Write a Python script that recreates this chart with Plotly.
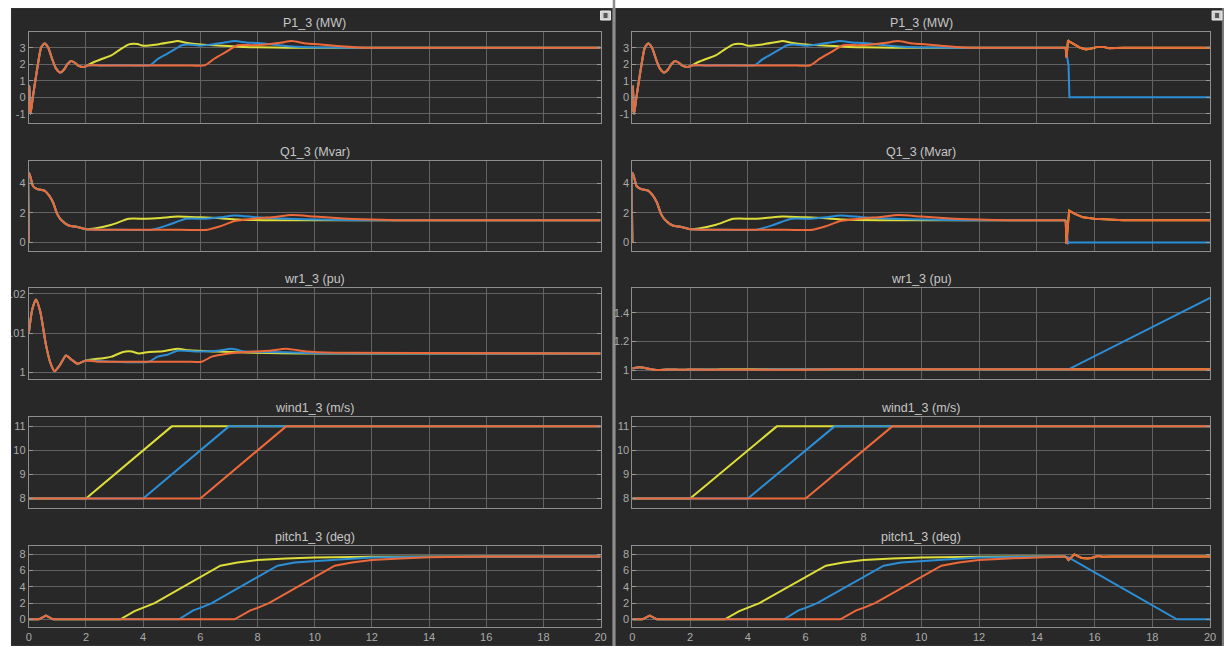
import plotly.graph_objects as go

W, H = 1230, 646

YELLOW = "#DEDE3A"
BLUE = "#2C8ED6"
ORANGE = "#EE693A"

# ---------------- P1_3 (MW) ----------------
P_INIT_T = [0.0, 0.02, 0.06, 0.14, 0.3, 0.43, 0.55, 0.68, 0.82, 0.95, 1.1, 1.22, 1.35, 1.48, 1.6, 1.75, 1.92, 2.05]
P_INIT_V = [-0.9, 0.7, -1.0, 0.0, 1.8, 3.0, 3.25, 3.0, 2.3, 1.75, 1.5, 1.65, 2.0, 2.2, 2.1, 1.9, 1.83, 1.93]
P_Y_T = [2.3, 2.6, 2.9, 3.2, 3.5, 3.8, 4.0, 4.5, 5.0, 5.2, 5.5, 6.0, 6.5, 7.0, 7.5, 8.0, 9.0, 20.0]
P_Y_V = [2.15, 2.35, 2.55, 2.9, 3.2, 3.22, 3.12, 3.2, 3.35, 3.4, 3.3, 3.2, 3.15, 3.1, 3.05, 3.03, 3.0, 3.0]
P_B_T = [2.5, 3.5, 4.25, 4.5, 4.8, 5.1, 5.35, 5.6, 6.0, 6.4, 6.8, 7.2, 7.6, 8.0, 8.5, 9.0, 9.5, 10.0, 11.0, 20.0]
P_B_V = [1.93, 1.94, 1.95, 2.3, 2.6, 2.9, 3.15, 3.2, 3.12, 3.2, 3.3, 3.4, 3.32, 3.28, 3.2, 3.1, 3.05, 3.02, 3.0, 3.0]
P_O_T = [2.5, 3.5, 4.5, 5.5, 6.15, 6.5, 6.9, 7.3, 7.8, 8.3, 8.8, 9.2, 9.7, 10.2, 10.8, 11.5, 20.0]
P_O_V = [1.93, 1.93, 1.93, 1.93, 1.93, 2.35, 2.75, 3.15, 3.15, 3.2, 3.3, 3.4, 3.25, 3.2, 3.1, 3.02, 3.0]
# turbine trip at t = 15 s (right column)
P_TRIP_O_T = [15.0, 15.03, 15.08, 15.15, 15.3, 15.5, 15.7, 15.9, 16.1, 16.3, 16.5, 17.0, 20.0]
P_TRIP_O_V = [3.0, 2.4, 3.45, 3.35, 3.2, 3.0, 2.9, 2.95, 3.05, 3.05, 2.97, 3.0, 3.0]
P_TRIP_B_T = [15.0, 15.05, 15.1, 15.13, 20.0]
P_TRIP_B_V = [3.0, 2.3, 1.9, 0.0, 0.0]

# ---------------- Q1_3 (Mvar) ----------------
Q_INIT_T = [0.0, 0.005, 0.06, 0.15, 0.3, 0.55, 0.7, 0.85, 1.0, 1.17, 1.4, 1.7, 2.0]
Q_INIT_V = [0.0, 4.7, 4.4, 3.8, 3.6, 3.5, 3.2, 2.7, 1.9, 1.45, 1.15, 1.05, 0.9]
Q_Y_T = [2.3, 2.9, 3.5, 4.1, 4.6, 5.2, 6.0, 6.6, 7.3, 8.5, 20.0]
Q_Y_V = [0.95, 1.2, 1.6, 1.6, 1.65, 1.75, 1.7, 1.65, 1.55, 1.5, 1.5]
Q_B_T = [3.0, 4.3, 4.9, 5.5, 6.2, 6.7, 7.2, 8.0, 9.1, 10.1, 11.5, 20.0]
Q_B_V = [0.87, 0.87, 1.2, 1.6, 1.6, 1.7, 1.83, 1.7, 1.6, 1.55, 1.5, 1.5]
Q_O_T = [3.0, 4.0, 5.0, 6.25, 6.7, 7.2, 7.6, 8.1, 8.6, 9.2, 10.0, 11.0, 12.0, 13.0, 20.0]
Q_O_V = [0.87, 0.87, 0.87, 0.87, 1.1, 1.45, 1.55, 1.65, 1.72, 1.85, 1.75, 1.62, 1.55, 1.5, 1.5]
Q_TRIP_O_T = [15.0, 15.03, 15.07, 15.12, 15.3, 15.6, 16.0, 16.5, 17.0, 20.0]
Q_TRIP_O_V = [1.5, -0.1, 1.0, 2.15, 1.95, 1.7, 1.6, 1.55, 1.5, 1.5]
Q_TRIP_B_T = [15.0, 15.04, 15.08, 15.12, 20.0]
Q_TRIP_B_V = [1.5, 0.4, -0.05, 0.0, 0.0]

# ---------------- wr1_3 (pu) ----------------
WR_INIT_T = [0.0, 0.12, 0.25, 0.4, 0.6, 0.75, 0.9, 1.1, 1.3, 1.5, 1.7, 1.85, 2.0]
WR_INIT_V = [1.010, 1.016, 1.0186, 1.0155, 1.007, 1.0025, 1.0003, 1.002, 1.0043, 1.0032, 1.0022, 1.0026, 1.003]
WR_Y_T = [2.2, 2.6, 2.9, 3.3, 3.6, 3.85, 4.2, 4.6, 5.2, 5.6, 6.6, 7.9, 9.5, 20.0]
WR_Y_V = [1.0033, 1.0036, 1.004, 1.0052, 1.0053, 1.0048, 1.0052, 1.0053, 1.006, 1.0056, 1.0053, 1.005, 1.0048, 1.0048]
WR_B_T = [3.0, 4.2, 4.5, 4.85, 5.2, 6.0, 6.6, 7.1, 7.55, 8.4, 9.5, 10.7, 20.0]
WR_B_V = [1.0027, 1.0027, 1.004, 1.0045, 1.0055, 1.0053, 1.0055, 1.006, 1.0053, 1.0052, 1.005, 1.0048, 1.0048]
WR_O_T = [2.5, 3.5, 4.5, 5.5, 6.05, 6.4, 7.0, 7.5, 8.4, 9.0, 9.7, 10.7, 20.0]
WR_O_V = [1.0027, 1.0027, 1.0027, 1.0027, 1.0027, 1.004, 1.0048, 1.0052, 1.0055, 1.006, 1.0053, 1.005, 1.0048]
WR_TRIP_O_T = [15.0, 20.0]
WR_TRIP_O_V = [1.0048, 1.0048]
WR_TRIP_B_T = [15.0, 15.1, 20.0]
WR_TRIP_B_V = [1.0048, 1.0048, 1.505]

# ---------------- wind1_3 (m/s) ----------------
WIND_Y_T = [0.0, 2.0, 5.0, 20.0]
WIND_Y_V = [8.0, 8.0, 11.0, 11.0]
WIND_B_T = [0.0, 4.0, 7.0, 20.0]
WIND_B_V = [8.0, 8.0, 11.0, 11.0]
WIND_O_T = [0.0, 6.0, 9.0, 20.0]
WIND_O_V = [8.0, 8.0, 11.0, 11.0]

# ---------------- pitch1_3 (deg) ----------------
PITCH_INIT_T = [0.0, 0.35, 0.6, 0.85, 2.0]
PITCH_INIT_V = [0.0, 0.0, 0.45, 0.0, 0.0]
PITCH_Y_T = [3.2, 3.7, 4.0, 4.4, 6.7, 7.3, 8.0, 9.0, 10.0, 12.0, 20.0]
PITCH_Y_V = [0.0, 1.0, 1.4, 2.0, 6.6, 7.0, 7.3, 7.5, 7.6, 7.7, 7.75]
PITCH_B_T = [5.25, 5.75, 6.0, 6.4, 8.7, 9.3, 10.0, 11.0, 12.0, 14.0, 20.0]
PITCH_B_V = [0.0, 1.1, 1.4, 2.0, 6.6, 7.0, 7.2, 7.4, 7.6, 7.7, 7.75]
PITCH_O_T = [7.2, 7.75, 8.0, 8.4, 10.7, 11.3, 12.0, 13.0, 14.0, 16.0, 20.0]
PITCH_O_V = [0.0, 1.1, 1.4, 2.0, 6.6, 7.0, 7.3, 7.5, 7.65, 7.75, 7.75]
PITCH_TRIP_O_T = [15.0, 15.1, 15.3, 15.55, 15.75, 15.9, 16.1, 16.3, 16.6, 20.0]
PITCH_TRIP_O_V = [7.72, 7.3, 8.0, 7.55, 7.5, 7.55, 7.8, 7.7, 7.75, 7.75]
PITCH_TRIP_B_T = [15.05, 18.85, 20.0]
PITCH_TRIP_B_V = [7.72, 0.0, 0.0]

TIME_TICKS = [0, 2, 4, 6, 8, 10, 12, 14, 16, 18, 20]
TRIP_TIME = 15.0


def join(t_a, v_a, t_b, v_b):
    """Append segment b to segment a, dropping points of a at or after b's first time."""
    keep = [(t, v) for t, v in zip(t_a, v_a) if t < t_b[0]]
    return [t for t, _ in keep] + list(t_b), [v for _, v in keep] + list(v_b)


def upto(t_a, v_a, t_end):
    """Part of a series up to t_end, closed with its value at t_end."""
    keep = [(t, v) for t, v in zip(t_a, v_a) if t < t_end]
    last = [v for t, v in zip(t_a, v_a) if t >= t_end][0]
    return [t for t, _ in keep] + [t_end], [v for _, v in keep] + [last]


# left column (normal operation) series
P_Y = join(P_INIT_T, P_INIT_V, P_Y_T, P_Y_V)
P_B = join(P_INIT_T, P_INIT_V, P_B_T, P_B_V)
P_O = join(P_INIT_T, P_INIT_V, P_O_T, P_O_V)
Q_Y = join(Q_INIT_T, Q_INIT_V, Q_Y_T, Q_Y_V)
Q_B = join(Q_INIT_T, Q_INIT_V, Q_B_T, Q_B_V)
Q_O = join(Q_INIT_T, Q_INIT_V, Q_O_T, Q_O_V)
WR_Y = join(WR_INIT_T, WR_INIT_V, WR_Y_T, WR_Y_V)
WR_B = join(WR_INIT_T, WR_INIT_V, WR_B_T, WR_B_V)
WR_O = join(WR_INIT_T, WR_INIT_V, WR_O_T, WR_O_V)
PI_Y = join(PITCH_INIT_T, PITCH_INIT_V, PITCH_Y_T, PITCH_Y_V)
PI_B = join(PITCH_INIT_T, PITCH_INIT_V, PITCH_B_T, PITCH_B_V)
PI_O = join(PITCH_INIT_T, PITCH_INIT_V, PITCH_O_T, PITCH_O_V)
WI_Y = (WIND_Y_T, WIND_Y_V)
WI_B = (WIND_B_T, WIND_B_V)
WI_O = (WIND_O_T, WIND_O_V)

# each row: series per colour for both columns; right column adds the post-trip
# segments (None = unchanged by the trip)
rows = [
    dict(title="P1_3 (MW)", top=32, bottom=123, smooth=True,
         yr=[[-1.55, 3.95], [-1.55, 3.95]],
         tv=[[-1, 0, 1, 2, 3]] * 2, tt=[["-1", "0", "1", "2", "3"]] * 2,
         series=[P_Y, P_B, P_O],
         trip=[(P_TRIP_O_T, P_TRIP_O_V), (P_TRIP_B_T, P_TRIP_B_V), (P_TRIP_O_T, P_TRIP_O_V)]),
    dict(title="Q1_3 (Mvar)", top=161, bottom=251, smooth=True,
         yr=[[-0.57, 5.5], [-0.57, 5.5]],
         tv=[[0, 2, 4]] * 2, tt=[["0", "2", "4"]] * 2,
         series=[Q_Y, Q_B, Q_O],
         trip=[(Q_TRIP_O_T, Q_TRIP_O_V), (Q_TRIP_B_T, Q_TRIP_B_V), (Q_TRIP_O_T, Q_TRIP_O_V)]),
    dict(title="wr1_3 (pu)", top=288, bottom=379, smooth=True,
         yr=[[0.9983, 1.0215], [0.937, 1.575]],
         tv=[[1.0, 1.01, 1.02], [1.0, 1.2, 1.4]],
         tt=[["1", "1.01", "1.02"], ["1", "1.2", "1.4"]],
         series=[WR_Y, WR_B, WR_O],
         trip=[(WR_TRIP_O_T, WR_TRIP_O_V), (WR_TRIP_B_T, WR_TRIP_B_V), (WR_TRIP_O_T, WR_TRIP_O_V)]),
    dict(title="wind1_3 (m/s)", top=417, bottom=508, smooth=False,
         yr=[[7.6, 11.39], [7.6, 11.39]],
         tv=[[8, 9, 10, 11]] * 2, tt=[["8", "9", "10", "11"]] * 2,
         series=[WI_Y, WI_B, WI_O],
         trip=[None, None, None]),
    dict(title="pitch1_3 (deg)", top=546, bottom=627, smooth=False,
         yr=[[-0.95, 9.03], [-0.95, 9.03]],
         tv=[[0, 2, 4, 6, 8]] * 2, tt=[["0", "2", "4", "6", "8"]] * 2,
         series=[PI_Y, PI_B, PI_O],
         trip=[(PITCH_TRIP_O_T, PITCH_TRIP_O_V), (PITCH_TRIP_B_T, PITCH_TRIP_B_V),
               (PITCH_TRIP_O_T, PITCH_TRIP_O_V)]),
]

columns = [(26, 602), (634, 1216)]
colors = [YELLOW, BLUE, ORANGE]

GRID = "#626262"
FRAME = "#8e8e8e"
TICKFONT = dict(family="Liberation Sans, Arial, sans-serif", size=11, color="#ababab")
TITLEFONT = dict(family="Liberation Sans, Arial, sans-serif", size=12.5, color="#c6c6c6")


def px_x(x):
    return x / W


def px_y(y):
    return 1 - y / H


fig = go.Figure()
layout = {}
annotations = []


def add_line(t, v, color, sfx, smooth):
    line = dict(color=color, width=2)
    if smooth:
        line.update(shape="spline", smoothing=0.6)
    fig.add_trace(go.Scatter(
        x=t, y=v, mode="lines", line=line,
        xaxis="x" + sfx, yaxis="y" + sfx,
        hoverinfo="skip", showlegend=False))


k = 0
for r, row in enumerate(rows):
    for c, (x0, x1) in enumerate(columns):
        k += 1
        sfx = "" if k == 1 else str(k)
        if c == 0 or row["trip"][0] is None:
            for (t, v), col in zip(row["series"], colors):
                add_line(t, v, col, sfx, row["smooth"])
        else:
            for (t, v), col in zip(row["series"], colors):
                tt_, vv_ = upto(t, v, TRIP_TIME)
                add_line(tt_, vv_, col, sfx, row["smooth"])
            for (tt_, vv_), col in zip(row["trip"], colors):
                add_line(tt_, vv_, col, sfx, False)
        layout["xaxis" + sfx] = dict(
            domain=[px_x(x0), px_x(x1)], range=[0, 20], anchor="y" + sfx,
            tickvals=TIME_TICKS, ticktext=[str(v) for v in TIME_TICKS],
            showticklabels=(r == len(rows) - 1),
            showgrid=True, gridcolor=GRID, gridwidth=1, zeroline=False,
            showline=True, linecolor=FRAME, linewidth=1, mirror=True,
            ticks="", tickfont=TICKFONT, fixedrange=True)
        layout["yaxis" + sfx] = dict(
            domain=[px_y(row["bottom"]), px_y(row["top"])], range=row["yr"][c],
            anchor="x" + sfx,
            tickvals=row["tv"][c], ticktext=row["tt"][c],
            showgrid=True, gridcolor=GRID, gridwidth=1, zeroline=False,
            showline=True, linecolor=FRAME, linewidth=1, mirror="ticks",
            ticks="inside", ticklen=4, tickcolor="#9a9a9a",
            tickfont=TICKFONT, fixedrange=True)
        annotations.append(dict(
            text=row["title"], x=px_x((x0 + x1) / 2), y=px_y(row["top"] - 9),
            xref="paper", yref="paper", xanchor="center", yanchor="middle",
            showarrow=False, font=TITLEFONT))

PANEL = "#282828"
shapes = [
    # scope window backgrounds
    dict(type="rect", xref="paper", yref="paper", x0=px_x(8), x1=px_x(614),
         y0=0, y1=px_y(8), fillcolor=PANEL, line=dict(color="#3e3e3e", width=1), layer="below"),
    dict(type="rect", xref="paper", yref="paper", x0=px_x(617), x1=px_x(1228),
         y0=0, y1=px_y(8), fillcolor=PANEL, line=dict(color="#3e3e3e", width=1), layer="below"),
    # window divider
    dict(type="rect", xref="paper", yref="paper", x0=px_x(614), x1=px_x(617),
         y0=0, y1=1, fillcolor="#8c8c8c", line=dict(width=0), layer="below"),
    dict(type="rect", xref="paper", yref="paper", x0=px_x(1228), x1=1,
         y0=0, y1=px_y(8), fillcolor="#7a7a7a", line=dict(width=0), layer="below"),
    # white page margins, drawn over clipped tick labels
    dict(type="rect", xref="paper", yref="paper", x0=0, x1=px_x(8),
         y0=0, y1=1, fillcolor="white", line=dict(width=0), layer="above"),
    dict(type="rect", xref="paper", yref="paper", x0=0, x1=px_x(614),
         y0=px_y(8), y1=1, fillcolor="white", line=dict(width=0), layer="above"),
    dict(type="rect", xref="paper", yref="paper", x0=px_x(617), x1=1,
         y0=px_y(8), y1=1, fillcolor="white", line=dict(width=0), layer="above"),
]
# undock buttons in the window corners
for bx in (602, 1218):
    shapes.append(dict(type="rect", xref="paper", yref="paper",
                       x0=px_x(bx), x1=px_x(bx + 10), y0=px_y(20), y1=px_y(11),
                       fillcolor="#cfcfcf", line=dict(color="#eeeeee", width=1), layer="above"))
    shapes.append(dict(type="rect", xref="paper", yref="paper",
                       x0=px_x(bx + 3), x1=px_x(bx + 7), y0=px_y(18), y1=px_y(13),
                       fillcolor="#555555", line=dict(width=0), layer="above"))

fig.update_layout(
    width=W, height=H, autosize=False,
    margin=dict(l=0, r=0, t=0, b=0),
    paper_bgcolor="white", plot_bgcolor="black",
    shapes=shapes, annotations=annotations, showlegend=False,
    **layout)

fig.write_html("out.html", config={"displayModeBar": False})
